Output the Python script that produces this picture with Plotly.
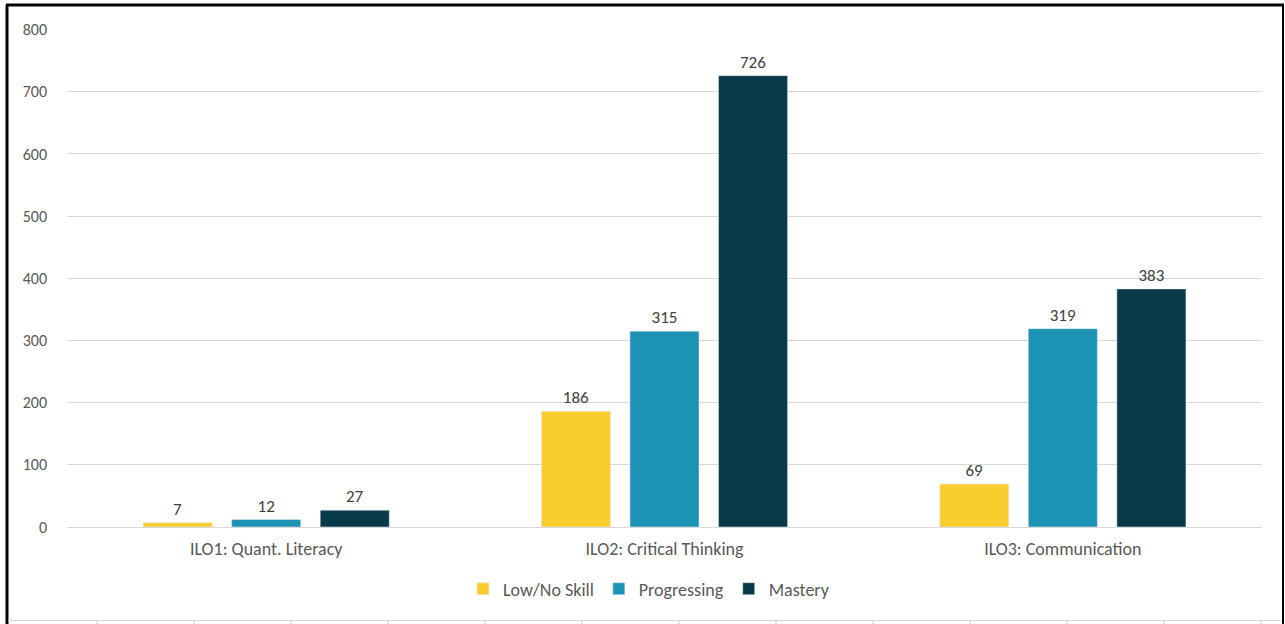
import plotly.graph_objects as go

categories = ["ILO1: Quant. Literacy", "ILO2: Critical Thinking", "ILO3: Communication"]
low_no_skill = [7, 186, 69]
progressing = [12, 315, 319]
mastery = [27, 726, 383]
y_ticks = [0, 100, 200, 300, 400, 500, 600, 700, 800]

FONT = "Carlito, Calibri, Lato, sans-serif"
series = [
    ("Low/No Skill", low_no_skill, "#FACD2E"),
    ("Progressing", progressing, "#1C93B3"),
    ("Mastery", mastery, "#083A4A"),
]

fig = go.Figure()
for name, vals, color in series:
    fig.add_trace(go.Bar(
        x=categories, y=vals, name=name, marker_color=color,
        text=vals, textposition="outside", cliponaxis=False,
        textfont=dict(family=FONT, size=17, color="#404040"),
    ))

W, H = 1285, 624
L, R, T, B = 67, 23, 29, 97
pw, ph = W - L - R, H - T - B

def px_x(x):
    return (x - L) / pw

def px_y(y):
    return (H - B - y) / ph

shapes = [
    dict(type="line", xref="paper", yref="paper", x0=px_x(6), x1=px_x(1284), y0=px_y(5), y1=px_y(5),
         line=dict(color="black", width=3)),
    dict(type="line", xref="paper", yref="paper", x0=px_x(7), x1=px_x(7), y0=px_y(5), y1=px_y(624),
         line=dict(color="black", width=3)),
    dict(type="line", xref="paper", yref="paper", x0=px_x(1283), x1=px_x(1283), y0=px_y(5), y1=px_y(624),
         line=dict(color="black", width=2)),
    dict(type="line", xref="paper", yref="paper", x0=px_x(8), x1=px_x(1282), y0=px_y(620.5), y1=px_y(620.5),
         line=dict(color="#D9D9D9", width=1)),
]
for i in range(13):
    xv = 97 + i * 97
    shapes.append(dict(type="line", xref="paper", yref="paper", x0=px_x(xv), x1=px_x(xv),
                       y0=px_y(620.5), y1=px_y(624), line=dict(color="#C8C8C8", width=1)))

fig.update_layout(
    width=W, height=H,
    margin=dict(l=L, r=R, t=T, b=B, autoexpand=False),
    plot_bgcolor="white", paper_bgcolor="white",
    barmode="group", bargap=0.333, bargroupgap=0.22,
    font=dict(family=FONT, color="#595959", size=16),
    showlegend=True,
    legend=dict(orientation="h", x=0.487, xanchor="center", y=px_y(589), yanchor="middle",
                font=dict(family=FONT, size=18, color="#595959"), itemwidth=30,
                traceorder="normal"),
    xaxis=dict(showgrid=False, showline=False, ticks="", tickfont=dict(size=18, color="#595959"),
               ticklabelstandoff=9),
    yaxis=dict(range=[0, 801], tickvals=y_ticks, showgrid=True, gridcolor="#D9D9D9", gridwidth=1,
               zeroline=True, zerolinecolor="#D9D9D9", zerolinewidth=1,
               tickfont=dict(size=16, color="#595959"), ticklabelstandoff=19),
    shapes=shapes,
)

fig.write_html("out.html", config={"displayModeBar": False},
               post_script="document.body.style.margin='0';document.body.style.overflow='hidden';")
